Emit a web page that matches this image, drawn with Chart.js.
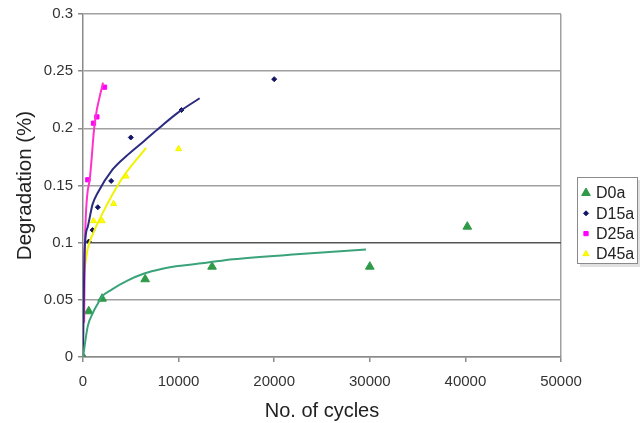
<!DOCTYPE html>
<html>
<head>
<meta charset="utf-8">
<script src="https://cdn.jsdelivr.net/npm/chart.js@4.4.1/dist/chart.umd.min.js"></script>
<style>
  body { margin: 0; background: #fff; }
</style>
</head>
<body>
<canvas id="chart" width="642" height="423"></canvas>
<script>
// measured points
const d0aX = [0, 600, 2000, 6500, 13500, 30000, 40200];
const d0aY = [0, 0.040, 0.051, 0.068, 0.079, 0.079, 0.114];
const d15aX = [0, 600, 1000, 1550, 2950, 5000, 10300, 20000];
const d15aY = [0, 0.101, 0.111, 0.131, 0.154, 0.192, 0.216, 0.243];
const d25aX = [0, 500, 1100, 1450, 2250];
const d25aY = [0, 0.155, 0.2045, 0.210, 0.236];
const d45aX = [0, 1100, 2000, 3200, 4500, 10000];
const d45aY = [0, 0.119, 0.119, 0.134, 0.158, 0.182];

// trendlines
const d0aFitX = [0, 500, 1000, 1500, 2000, 3000, 4700, 6400, 8200, 9900, 12900, 15700, 22700, 29600];
const d0aFitY = [0, 0.027, 0.038, 0.046, 0.053, 0.059, 0.067, 0.073, 0.077, 0.0795, 0.0825, 0.0855, 0.090, 0.094];
const d15aFitX = [0, 150, 500, 1000, 1500, 3100, 4700, 6400, 8000, 9900, 12200];
const d15aFitY = [0, 0.090, 0.114, 0.1335, 0.143, 0.164, 0.177, 0.189, 0.2005, 0.2135, 0.2263];
const d25aFitX = [120, 200, 700, 1225, 2090];
const d25aFitY = [0.030, 0.100, 0.155, 0.2045, 0.240];
const d45aFitX = [130, 500, 1000, 2000, 4000, 6600];
const d45aFitY = [0.075, 0.095, 0.107, 0.125, 0.155, 0.183];

const xTicks = [0, 10000, 20000, 30000, 40000, 50000];
const yTicks = [0, 0.05, 0.1, 0.15, 0.2, 0.25, 0.3];

const pts = (xs, ys) => xs.map((x, i) => ({x: x, y: ys[i]}));
const FONT = '"Liberation Sans", Arial, sans-serif';

function fit(xs, ys, color) {
  return {
    label: '', fit: true, data: pts(xs, ys), showLine: true,
    borderColor: color, borderWidth: 2, pointRadius: 0,
    cubicInterpolationMode: 'monotone', order: 0
  };
}

const legendBox = {
  id: 'legendBox',
  afterDraw(chart) {
    const c = chart.ctx;
    c.save();
    c.fillStyle = 'rgba(0,0,0,0.12)';
    c.fillRect(580, 180, 60, 87);
    c.fillStyle = '#fff';
    c.fillRect(577.5, 177.5, 60, 86);
    c.strokeStyle = '#8a8a8a';
    c.lineWidth = 1;
    c.strokeRect(577.5, 177.5, 60, 86);
    c.font = '16px ' + FONT;
    c.textBaseline = 'middle';
    let y = 193;
    chart.data.datasets.filter(d => !d.fit).forEach(d => {
      c.fillStyle = d.backgroundColor;
      c.strokeStyle = d.borderColor;
      Chart.helpers.drawPoint(c, {pointStyle: d.pointStyle, radius: d.pointRadius, borderWidth: 1, rotation: d.pointRotation || 0}, 586, y);
      c.fillStyle = '#222';
      c.fillText(d.label, 596, y + 1);
      y += 20.3;
    });
    c.restore();
  }
};

new Chart(document.getElementById('chart'), {
  type: 'scatter',
  data: {
    datasets: [
      {label: 'D0a', data: pts(d0aX, d0aY), pointStyle: 'triangle', pointRadius: 5,
       backgroundColor: '#2f9a48', borderColor: '#2f9a48', order: 1},
      {label: 'D15a', data: pts(d15aX, d15aY), pointStyle: 'rectRot', pointRadius: 2.5,
       backgroundColor: '#141466', borderColor: '#141466', order: 1},
      {label: 'D25a', data: pts(d25aX, d25aY), pointStyle: 'rect', pointRadius: 3,
       backgroundColor: '#ff00ff', borderColor: '#ff00ff', order: 1},
      {label: 'D45a', data: pts(d45aX, d45aY), pointStyle: 'triangle', pointRadius: 3.5,
       backgroundColor: '#ffff00', borderColor: '#f2f200', order: 1},
      fit(d0aFitX, d0aFitY, '#3aa37a'),
      fit(d15aFitX, d15aFitY, '#2b2b80'),
      fit(d25aFitX, d25aFitY, '#ff33cc'),
      fit(d45aFitX, d45aFitY, '#f2f200')
    ]
  },
  options: {
    responsive: false,
    animation: false,
    layout: { padding: { left: 0, right: 81, top: 14, bottom: 0 } },
    plugins: { legend: { display: false }, tooltip: { enabled: false } },
    scales: {
      x: {
        type: 'linear', min: 0, max: 50000,
        afterBuildTicks: s => { s.ticks = xTicks.map(v => ({value: v})); },
        afterFit: s => { s.height = 66; },
        grid: {
          drawOnChartArea: true, tickLength: 5, lineWidth: 1.5,
          color: c => (c.tick && c.tick.value === 50000) ? '#a0a0a0' : 'rgba(0,0,0,0)',
          tickColor: '#8a8a8a'
        },
        border: { color: '#8a8a8a', width: 1.5 },
        ticks: { color: '#333', font: { family: FONT, size: 15 }, padding: 11, maxRotation: 0,
                 callback: v => String(v) },
        title: { display: true, text: 'No. of cycles', color: '#222',
                 font: { family: FONT, size: 20 }, padding: { top: 0, bottom: 0 } }
      },
      y: {
        type: 'linear', min: 0, max: 0.3,
        afterBuildTicks: s => { s.ticks = yTicks.map(v => ({value: v})); },
        afterFit: s => { s.width = 83; },
        grid: {
          tickLength: 5, lineWidth: 1.5,
          color: c => (c.tick && Math.abs(c.tick.value - 0.1) < 1e-9) ? '#555' : '#a0a0a0',
          tickColor: '#8a8a8a'
        },
        border: { color: '#8a8a8a', width: 1.5 },
        ticks: { color: '#333', font: { family: FONT, size: 15 }, padding: 5,
                 callback: v => String(+v.toFixed(2)) },
        title: { display: true, text: 'Degradation (%)', color: '#222',
                 font: { family: FONT, size: 20.5 }, padding: { top: 13, bottom: 0 } }
      }
    }
  },
  plugins: [legendBox]
});
</script>
</body>
</html>
